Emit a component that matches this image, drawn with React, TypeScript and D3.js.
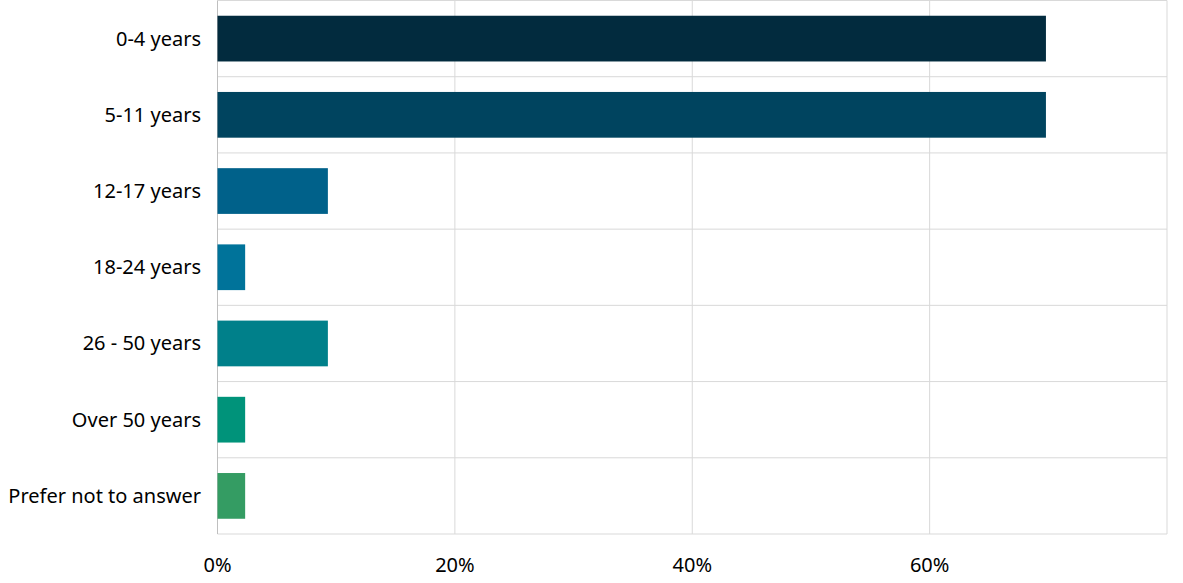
import React from "react";
import * as d3 from "d3";

const categories = ["0-4 years", "5-11 years", "12-17 years", "18-24 years", "26 - 50 years", "Over 50 years", "Prefer not to answer"];
const values = [69.8, 69.8, 9.3, 2.33, 9.3, 2.33, 2.33];
const colors = ["#022B3E", "#00445F", "#00618A", "#00739A", "#00808A", "#00937A", "#349C63"];
const xTicks = [0, 20, 40, 60];

const W = 1183, H = 583;
const M = { left: 217.5, right: 16, top: 0.5, bottom: 49 };

export default function App() {
  const x = d3.scaleLinear().domain([0, 80]).range([M.left, W - M.right]);
  const y = d3.scaleBand().domain(categories).range([M.top, H - M.bottom]).paddingInner(0.4).paddingOuter(0.2);
  const step = y.step();
  const font = "'Noto Sans', 'Open Sans', sans-serif";
  return (
    <svg width={W} height={H} style={{ position: "absolute", left: 0, top: 0, background: "#fff" }}>
      {d3.range(categories.length + 1).map(i => {
        const yy = M.top + i * step;
        return <line key={"h" + i} x1={M.left} x2={W - M.right} y1={yy} y2={yy} stroke="#d9d9d9" strokeWidth={1} />;
      })}
      {[...xTicks, 80].map(t => (
        <line key={"v" + t} x1={x(t)} x2={x(t)} y1={M.top} y2={H - M.bottom} stroke={t === 0 ? "#bfbfbf" : "#d9d9d9"} strokeWidth={1} />
      ))}
      {categories.map((c, i) => (
        <rect key={c} x={x(0)} y={y(c)} width={x(values[i]) - x(0)} height={y.bandwidth()} fill={colors[i]} />
      ))}
      {categories.map(c => (
        <text key={"l" + c} x={201} y={(y(c) as number) + y.bandwidth() / 2} dy="0.35em" textAnchor="end" fontFamily={font} fontSize={20} fill="#000">{c}</text>
      ))}
      {xTicks.map(t => (
        <text key={"t" + t} x={x(t)} y={565} dy="0.35em" textAnchor="middle" fontFamily={font} fontSize={20} fill="#000">{t + "%"}</text>
      ))}
    </svg>
  );
}
